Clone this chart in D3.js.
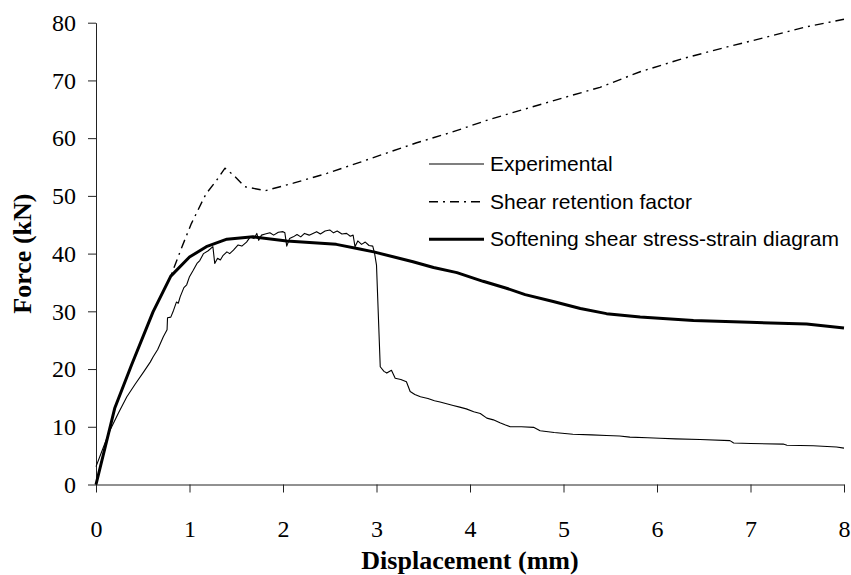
<!DOCTYPE html>
<html>
<head>
<meta charset="utf-8">
<script src="https://cdn.jsdelivr.net/npm/d3@7"></script>
<style>
  html, body { margin: 0; padding: 0; background: #fff; }
  svg { display: block; }
</style>
</head>
<body>
<svg id="chart" width="851" height="575"></svg>
<script>
// ---- Data ----
const xTicks = [0, 1, 2, 3, 4, 5, 6, 7, 8];
const yTicks = [0, 10, 20, 30, 40, 50, 60, 70, 80];

const seriesNames = ["Experimental", "Shear retention factor", "Softening shear stress-strain diagram"];

const expX = [0, 0.08, 0.15, 0.24, 0.33, 0.42, 0.51, 0.58, 0.61, 0.66, 0.72, 0.76, 0.765, 0.80, 0.83, 0.86, 0.88, 0.90, 0.94, 0.97,
  1.0, 1.04, 1.08, 1.11, 1.15, 1.20, 1.25, 1.27, 1.30, 1.33, 1.36, 1.40, 1.43, 1.47, 1.52, 1.56, 1.61, 1.65, 1.69, 1.72,
  1.74, 1.77, 1.81, 1.86, 1.90, 1.95, 2.0, 2.02, 2.04, 2.07, 2.11, 2.15, 2.19, 2.23, 2.28, 2.32, 2.36, 2.40, 2.45, 2.50,
  2.54, 2.58, 2.63, 2.68, 2.72, 2.75, 2.77, 2.80, 2.84, 2.88, 2.92, 2.96, 2.98, 3.0, 3.04, 3.08, 3.11, 3.16, 3.20, 3.26,
  3.32, 3.36, 3.41, 3.47, 3.55, 3.62, 3.68, 3.75, 3.82, 3.89, 3.96, 4.04, 4.11, 4.18, 4.25, 4.32, 4.38, 4.43, 4.55, 4.68,
  4.75, 4.9, 5.10, 5.3, 5.46, 5.6, 5.71, 5.9, 6.03, 6.2, 6.46, 6.78, 6.82, 7.0, 7.35, 7.39, 7.67, 7.92, 8.0];
const expY = [3.1, 6.5, 9.4, 12.4, 15.2, 17.4, 19.5, 21.2, 22.1, 23.4, 25.6, 26.8, 28.9, 29.0, 30.2, 31.6, 31.4, 32.5, 34.1, 34.6,
  36.0, 37.1, 38.3, 38.8, 40.0, 40.5, 41.2, 38.3, 39.2, 38.9, 39.7, 40.3, 40.0, 40.6, 41.5, 41.3, 42.0, 42.9, 42.6, 43.5,
  42.3, 43.2, 43.4, 43.6, 43.2, 43.7, 43.8, 43.6, 41.3, 42.6, 42.9, 43.3, 42.9, 43.5, 43.2, 43.5, 43.8, 43.4, 43.9, 44.1,
  43.6, 43.9, 43.4, 43.5, 43.0, 43.2, 41.2, 42.2, 41.6, 42.0, 41.4, 41.3, 40.0, 38.0, 20.4, 19.6, 19.3, 19.8, 18.4, 18.2,
  17.8, 16.1, 15.6, 15.2, 14.9, 14.5, 14.3, 14.0, 13.7, 13.4, 13.1, 12.6, 12.3, 11.5, 11.2, 10.7, 10.3, 10.0, 10.0, 9.9,
  9.3, 9.0, 8.7, 8.6, 8.5, 8.4, 8.2, 8.1, 8.0, 7.9, 7.8, 7.6, 7.2, 7.1, 7.0, 6.8, 6.7, 6.5, 6.3];

const srfX = [0, 0.2, 0.38, 0.61, 0.8, 0.92, 1.02, 1.15, 1.18, 1.29, 1.38, 1.47, 1.59, 1.81, 2.11, 2.47, 2.82, 3.14, 3.43, 3.8,
  4.2, 4.6, 5.0, 5.39, 5.82, 6.28, 6.75, 7.17, 7.6, 8.0];
const srfY = [0, 13.2, 20.7, 29.9, 36.1, 41.2, 45.2, 49.5, 50.4, 52.7, 54.8, 53.6, 51.6, 50.9, 52.2, 53.9, 55.8, 57.6, 59.2, 61.0,
  63.2, 65.1, 67.0, 68.8, 71.5, 73.8, 75.8, 77.5, 79.3, 80.6];

const sofX = [0, 0.2, 0.38, 0.61, 0.8, 1.0, 1.18, 1.4, 1.68, 2.04, 2.57, 2.82, 2.97, 3.39, 3.61, 3.86, 4.14, 4.39, 4.59, 4.89,
  5.18, 5.46, 5.82, 6.39, 6.99, 7.6, 8.0];
const sofY = [0, 13.2, 20.7, 29.9, 36.1, 39.4, 41.2, 42.5, 42.9, 42.2, 41.6, 40.8, 40.3, 38.6, 37.6, 36.7, 35.2, 34.0, 32.9, 31.7,
  30.5, 29.6, 29.0, 28.4, 28.1, 27.8, 27.1];

// ---- Layout ----
const svg = d3.select("#chart");
const pLeft = 96, pRight = 844, pTop = 22.7, pBottom = 484.5;

const x = d3.scaleLinear().domain([0, 8]).range([pLeft, pRight]);
const y = d3.scaleLinear().domain([0, 80]).range([pBottom, pTop]);

const axisColor = "#222";
const serif = "'Liberation Serif', 'Times New Roman', serif";

// Y axis
const gy = svg.append("g")
  .attr("transform", `translate(${pLeft},0)`)
  .call(d3.axisLeft(y).tickValues(yTicks).tickSize(8).tickSizeOuter(0).tickPadding(12).tickFormat(d3.format("d")));
gy.select(".domain").attr("stroke", axisColor);
gy.selectAll(".tick line").attr("stroke", axisColor);
gy.selectAll(".tick text")
  .attr("font-family", serif)
  .attr("font-size", 24).attr("fill", "#000");

// X axis
const gx = svg.append("g")
  .attr("transform", `translate(0,${pBottom})`)
  .call(d3.axisBottom(x).tickValues(xTicks).tickSize(8).tickSizeOuter(0).tickFormat(d3.format("d")));
gx.select(".domain").attr("stroke", axisColor);
gx.selectAll(".tick line").attr("stroke", axisColor);
gx.selectAll(".tick text")
  .attr("font-family", serif)
  .attr("font-size", 24).attr("fill", "#000")
  .attr("y", 52.5).attr("dy", 0);

// Axis titles
svg.append("text")
  .attr("x", (pLeft + pRight) / 2).attr("y", 569)
  .attr("text-anchor", "middle")
  .attr("font-family", serif)
  .attr("font-weight", "bold").attr("font-size", 26)
  .text("Displacement (mm)");

svg.append("text")
  .attr("transform", `translate(31,${(pTop + pBottom) / 2}) rotate(-90)`)
  .attr("text-anchor", "middle")
  .attr("font-family", serif)
  .attr("font-weight", "bold").attr("font-size", 26)
  .text("Force (kN)");

// Lines
const line = d3.line().x(d => x(d[0])).y(d => y(d[1]));
const zip = (a, b) => a.map((v, i) => [v, b[i]]);

const styles = [
  { data: zip(expX, expY), width: 1.1, dash: null },
  { data: zip(srfX, srfY), width: 1.4, dash: "9,5,2,5" },
  { data: zip(sofX, sofY), width: 3, dash: null }
];

styles.forEach(s => {
  svg.append("path")
    .datum(s.data)
    .attr("fill", "none")
    .attr("stroke", "#000")
    .attr("stroke-width", s.width)
    .attr("stroke-linejoin", "round")
    .attr("stroke-dasharray", s.dash)
    .attr("d", line);
});

// Legend
const legY = [164, 201.7, 239.3];
const lg = svg.append("g");
seriesNames.forEach((name, i) => {
  const s = styles[i];
  lg.append("line")
    .attr("x1", 429).attr("x2", 484)
    .attr("y1", legY[i]).attr("y2", legY[i])
    .attr("stroke", "#000")
    .attr("stroke-width", s.width)
    .attr("stroke-dasharray", s.dash);
  lg.append("text")
    .attr("x", 490).attr("y", legY[i] + 7)
    .attr("font-family", "'Liberation Sans', Arial, sans-serif")
    .attr("font-size", 21).attr("fill", "#000")
    .text(name);
});
</script>
</body>
</html>
